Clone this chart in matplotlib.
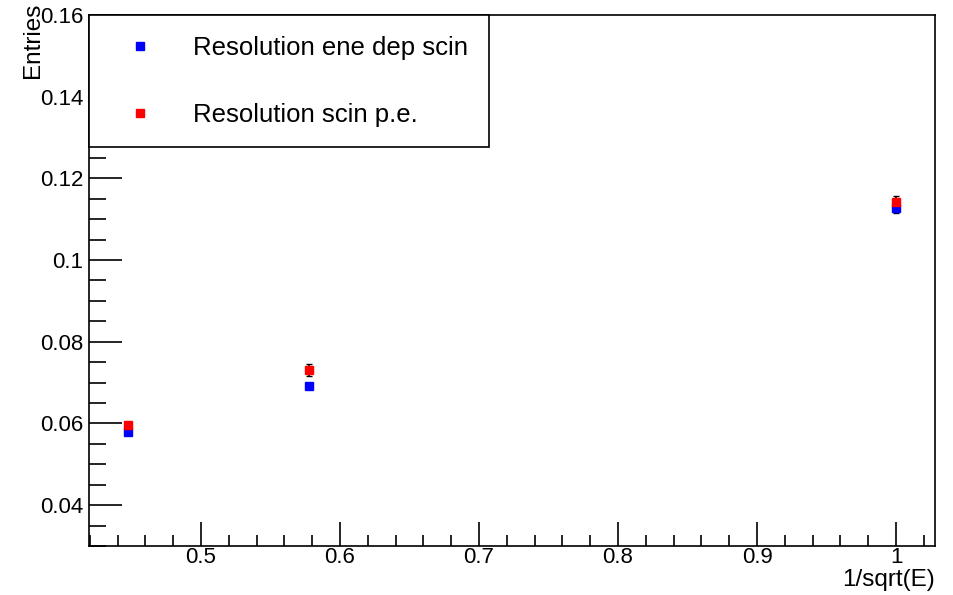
import matplotlib.pyplot as plt
from matplotlib.ticker import MultipleLocator
from matplotlib.lines import Line2D

plt.rcParams['font.family'] = ['Liberation Sans', 'DejaVu Sans']

# 1/sqrt(E) for E = 5, 3, 1
x = [0.4472, 0.5774, 1.0]

# resolution from energy deposit in scintillator
res_dep = [0.0579, 0.0691, 0.1127]
err_dep = [0.0003, 0.0004, 0.0012]

# resolution from scintillation photo-electrons
res_pe = [0.0596, 0.0731, 0.1142]
err_pe = [0.0004, 0.0015, 0.0014]

labels = ["Resolution ene dep scin", "Resolution scin p.e."]
colors = ['blue', 'red']

fig = plt.figure(figsize=(9.54, 5.95), dpi=100)
ax = fig.add_axes([0.0933, 0.0824, 0.8867, 0.8924])

ax.errorbar(x, res_dep, yerr=err_dep, fmt='s', color=colors[0], ecolor='black',
            markersize=6, elinewidth=1.2, capsize=2)
ax.errorbar(x, res_pe, yerr=err_pe, fmt='s', color=colors[1], ecolor='black',
            markersize=6, elinewidth=1.2, capsize=2)

ax.set_xlim(0.4194, 1.028)
ax.set_ylim(0.03, 0.16)

ax.xaxis.set_major_locator(MultipleLocator(0.1))
ax.xaxis.set_minor_locator(MultipleLocator(0.02))
ax.yaxis.set_major_locator(MultipleLocator(0.02))
ax.yaxis.set_minor_locator(MultipleLocator(0.005))
ax.xaxis.set_major_formatter(plt.FuncFormatter(lambda v, p: f"{v:g}"))
ax.yaxis.set_major_formatter(plt.FuncFormatter(lambda v, p: f"{v:g}"))

ax.tick_params(axis='x', which='major', direction='in', length=17, width=1.2,
               labelsize=16, pad=1)
ax.tick_params(axis='x', which='minor', direction='in', length=8, width=1.2)
ax.tick_params(axis='y', which='major', direction='in', length=24, width=1.2,
               labelsize=16, pad=4)
ax.tick_params(axis='y', which='minor', direction='in', length=12, width=1.2)
for s in ax.spines.values():
    s.set_linewidth(1.2)

ax.set_xlabel("1/sqrt(E)", fontsize=17.5, ha='right')
ax.xaxis.set_label_coords(1.0, -0.043)
ax.set_ylabel("Entries", fontsize=17.5, ha='right')
ax.yaxis.set_label_coords(-0.053, 1.023)

handles = [Line2D([], [], ls='none', marker='s', color=c, markersize=6) for c in colors]
leg = ax.legend(handles, labels, loc='upper left', bbox_to_anchor=(0.0, 1.0),
                fontsize=18.5, frameon=True, fancybox=False, edgecolor='black',
                framealpha=1, borderaxespad=0, borderpad=0.8, labelspacing=1.68,
                handletextpad=0.85, handlelength=2.4)
leg.get_frame().set_linewidth(1.2)
leg.set_zorder(5)

fig.savefig("out.png", dpi=100)
